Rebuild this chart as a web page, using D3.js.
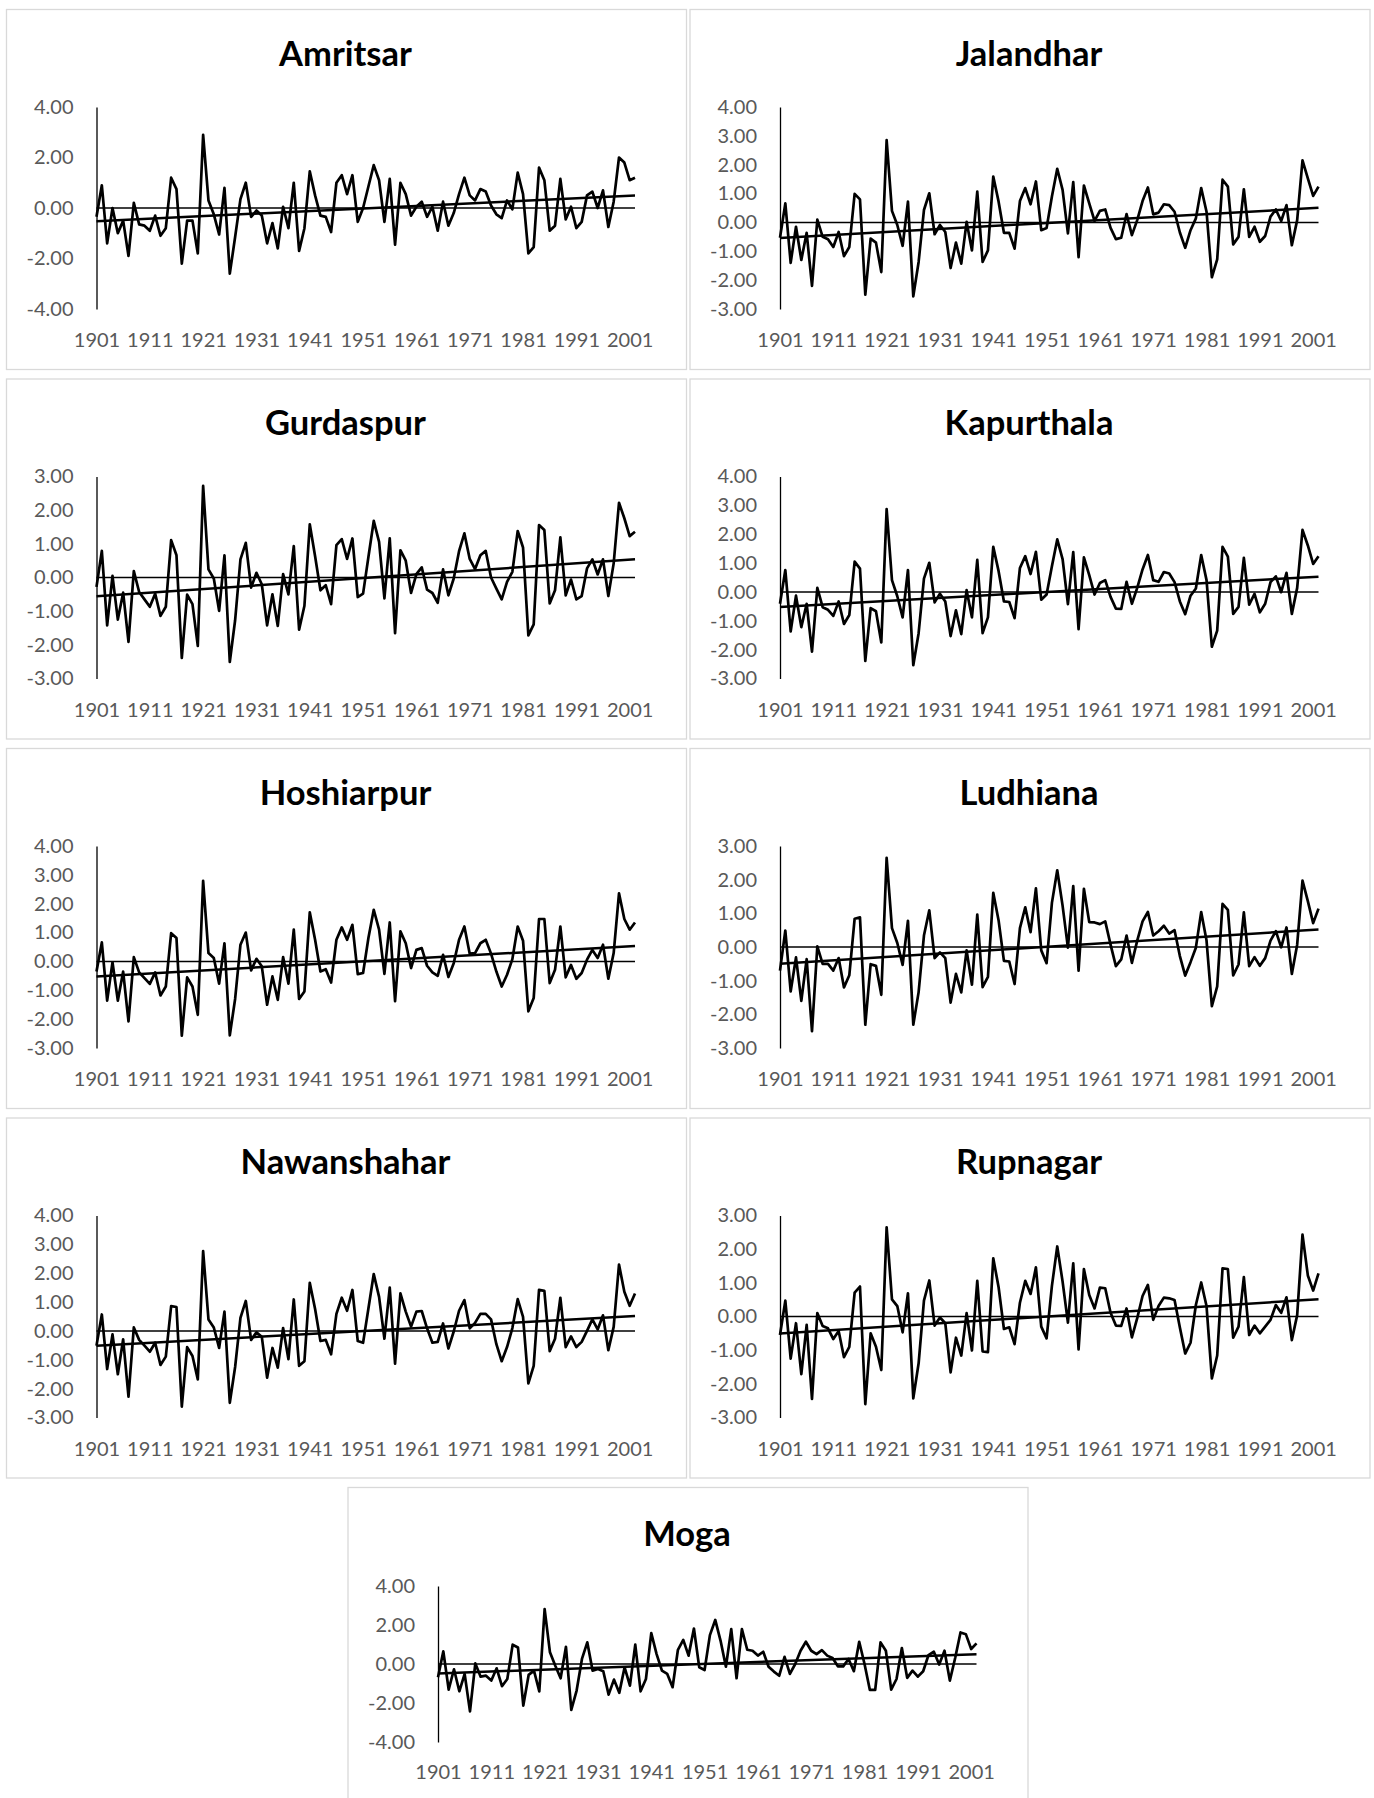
<!DOCTYPE html>
<html>
<head>
<meta charset="utf-8">
<script src="https://cdn.jsdelivr.net/npm/d3@7"></script>
<style>
  body { margin: 0; background: #fff; }
  #chart svg { display: block; }
</style>
</head>
<body>
<div id="chart"></div>
<script>

// years 1901-2002, one value per year
const years = d3.range(1901, 2003);
const yearTicks = [1901, 1911, 1921, 1931, 1941, 1951, 1961, 1971, 1981, 1991, 2001];

const amritsar = [
  -0.35, 0.9, -1.4, 0.0, -1.0, -0.5, -1.9, 0.2, -0.65, -0.7,
  -0.9, -0.3, -1.1, -0.8, 1.2, 0.75, -2.2, -0.5, -0.5, -1.8,
  2.9, 0.3, -0.25, -1.05, 0.8, -2.6, -1.15, 0.35, 1.0, -0.35,
  -0.1, -0.3, -1.4, -0.6, -1.6, 0.05, -0.8, 1.0, -1.7, -0.8,
  1.45, 0.5, -0.3, -0.35, -0.95, 1.0, 1.3, 0.55, 1.3, -0.55,
  0.0, 0.85, 1.7, 1.1, -0.55, 1.15, -1.45, 1.0, 0.55, -0.3,
  0.05, 0.25, -0.35, 0.05, -0.9, 0.25, -0.7, -0.2, 0.55, 1.2,
  0.5, 0.3, 0.75, 0.65, 0.1, -0.25, -0.4, 0.3, -0.05, 1.4,
  0.55, -1.8, -1.55, 1.6, 1.1, -0.9, -0.7, 1.15, -0.45, 0.05,
  -0.8, -0.55, 0.5, 0.65, 0.0, 0.7, -0.75, 0.25, 2.0, 1.8,
  1.1, 1.2
];
const jalandhar = [
  -0.53, 0.66, -1.4, -0.15, -1.3, -0.36, -2.2, 0.1, -0.5, -0.58,
  -0.85, -0.33, -1.17, -0.85, 0.99, 0.8, -2.5, -0.56, -0.7, -1.72,
  2.85, 0.4, -0.09, -0.81, 0.72, -2.56, -1.37, 0.43, 1.01, -0.41,
  -0.09, -0.33, -1.58, -0.7, -1.43, 0.02, -0.97, 1.07, -1.37, -0.97,
  1.59, 0.72, -0.36, -0.36, -0.91, 0.74, 1.19, 0.63, 1.42, -0.27,
  -0.19, 0.9, 1.86, 1.13, -0.38, 1.4, -1.2, 1.28, 0.66, 0.05,
  0.4, 0.45, -0.19, -0.58, -0.53, 0.29, -0.44, 0.08, 0.74, 1.21,
  0.28, 0.34, 0.63, 0.6, 0.37, -0.35, -0.88, -0.27, 0.14, 1.19,
  0.37, -1.9, -1.28, 1.48, 1.24, -0.76, -0.5, 1.15, -0.5, -0.15,
  -0.67, -0.47, 0.2, 0.45, 0.05, 0.6, -0.79, 0.08, 2.15, 1.53,
  0.92, 1.24
];
const gurdaspur = [
  -0.28, 0.79, -1.42, 0.05, -1.25, -0.45, -1.91, 0.19, -0.43, -0.65,
  -0.87, -0.48, -1.14, -0.87, 1.11, 0.66, -2.39, -0.51, -0.79, -2.03,
  2.72, 0.24, -0.03, -0.99, 0.66, -2.51, -1.27, 0.54, 1.03, -0.3,
  0.14, -0.2, -1.42, -0.5, -1.44, 0.1, -0.5, 0.93, -1.55, -0.84,
  1.58, 0.63, -0.38, -0.23, -0.79, 0.96, 1.14, 0.55, 1.16, -0.58,
  -0.48, 0.61, 1.68, 1.06, -0.62, 1.16, -1.65, 0.81, 0.5, -0.46,
  0.1, 0.3, -0.36, -0.46, -0.75, 0.24, -0.53, -0.03, 0.78, 1.31,
  0.55, 0.25, 0.66, 0.79, 0.0, -0.33, -0.65, -0.13, 0.17, 1.38,
  0.89, -1.72, -1.39, 1.56, 1.41, -0.77, -0.38, 1.19, -0.53, -0.06,
  -0.65, -0.55, 0.27, 0.54, 0.09, 0.54, -0.55, 0.42, 2.22, 1.76,
  1.23, 1.36
];
const kapurthala = [
  -0.41, 0.76, -1.37, -0.13, -1.22, -0.41, -2.07, 0.14, -0.53, -0.62,
  -0.83, -0.33, -1.11, -0.8, 1.05, 0.81, -2.39, -0.56, -0.67, -1.75,
  2.87, 0.41, -0.15, -0.88, 0.76, -2.54, -1.43, 0.46, 1.01, -0.36,
  -0.06, -0.33, -1.53, -0.64, -1.46, 0.06, -0.88, 1.11, -1.43, -0.88,
  1.56, 0.72, -0.33, -0.35, -0.91, 0.83, 1.24, 0.62, 1.39, -0.27,
  -0.09, 0.89, 1.82, 1.14, -0.42, 1.38, -1.29, 1.2, 0.58, -0.09,
  0.31, 0.41, -0.17, -0.58, -0.59, 0.35, -0.41, 0.14, 0.78, 1.28,
  0.41, 0.35, 0.69, 0.64, 0.34, -0.33, -0.77, -0.13, 0.12, 1.28,
  0.41, -1.9, -1.34, 1.56, 1.22, -0.76, -0.52, 1.18, -0.44, -0.07,
  -0.71, -0.41, 0.34, 0.54, -0.01, 0.66, -0.76, 0.14, 2.15, 1.61,
  0.97, 1.24
];
const hoshiarpur = [
  -0.35, 0.66, -1.36, -0.03, -1.36, -0.35, -2.08, 0.15, -0.38, -0.58,
  -0.78, -0.38, -1.18, -0.87, 0.98, 0.81, -2.57, -0.55, -0.87, -1.85,
  2.79, 0.29, 0.12, -0.77, 0.63, -2.56, -1.3, 0.58, 1.0, -0.31,
  0.09, -0.17, -1.5, -0.52, -1.33, 0.15, -0.77, 1.1, -1.3, -1.04,
  1.7, 0.75, -0.35, -0.27, -0.73, 0.75, 1.18, 0.75, 1.27, -0.44,
  -0.4, 0.81, 1.79, 1.1, -0.43, 1.35, -1.38, 1.04, 0.63, -0.23,
  0.4, 0.46, -0.15, -0.38, -0.5, 0.23, -0.54, -0.06, 0.75, 1.21,
  0.27, 0.29, 0.63, 0.75, 0.27, -0.35, -0.87, -0.46, 0.08, 1.21,
  0.72, -1.73, -1.27, 1.47, 1.47, -0.75, -0.29, 1.21, -0.55, -0.12,
  -0.6, -0.4, 0.06, 0.4, 0.12, 0.58, -0.6, 0.29, 2.36, 1.47,
  1.1, 1.35
];
const ludhiana = [
  -0.7, 0.49, -1.32, -0.31, -1.6, -0.36, -2.5, 0.02, -0.5, -0.5,
  -0.7, -0.33, -1.2, -0.84, 0.84, 0.88, -2.31, -0.51, -0.56, -1.42,
  2.65, 0.56, 0.12, -0.53, 0.78, -2.31, -1.34, 0.34, 1.09, -0.33,
  -0.16, -0.33, -1.65, -0.8, -1.35, -0.1, -1.12, 0.96, -1.19, -0.89,
  1.61, 0.79, -0.41, -0.43, -1.1, 0.56, 1.18, 0.44, 1.74, -0.1,
  -0.48, 1.31, 2.28, 1.23, -0.02, 1.81, -0.7, 1.73, 0.74, 0.73,
  0.68, 0.76, 0.07, -0.57, -0.37, 0.34, -0.47, 0.19, 0.76, 1.04,
  0.34, 0.47, 0.63, 0.4, 0.5, -0.27, -0.85, -0.45, -0.02, 1.04,
  0.19, -1.76, -1.17, 1.28, 1.1, -0.84, -0.52, 1.03, -0.57, -0.3,
  -0.56, -0.33, 0.19, 0.47, -0.01, 0.58, -0.8, 0.07, 1.97, 1.36,
  0.71, 1.14
];
const nawanshahar = [
  -0.51, 0.57, -1.32, -0.12, -1.5, -0.29, -2.28, 0.12, -0.31, -0.51,
  -0.72, -0.41, -1.18, -0.89, 0.86, 0.83, -2.62, -0.56, -0.87, -1.68,
  2.77, 0.4, 0.12, -0.59, 0.67, -2.49, -1.25, 0.45, 1.04, -0.31,
  -0.05, -0.2, -1.62, -0.59, -1.27, 0.1, -0.98, 1.09, -1.21, -1.05,
  1.67, 0.76, -0.35, -0.31, -0.81, 0.59, 1.15, 0.7, 1.42, -0.35,
  -0.41, 0.78, 1.97, 1.18, -0.27, 1.5, -1.13, 1.3, 0.67, 0.15,
  0.67, 0.69, 0.09, -0.41, -0.38, 0.26, -0.61, -0.02, 0.7, 1.07,
  0.09, 0.28, 0.59, 0.59, 0.4, -0.46, -1.05, -0.56, 0.1, 1.1,
  0.49, -1.82, -1.21, 1.42, 1.39, -0.7, -0.27, 1.15, -0.56, -0.19,
  -0.56, -0.38, 0.0, 0.4, 0.05, 0.54, -0.67, 0.14, 2.3, 1.36,
  0.87, 1.3
];
const rupnagar = [
  -0.55, 0.47, -1.25, -0.2, -1.71, -0.25, -2.45, 0.1, -0.28, -0.35,
  -0.67, -0.43, -1.21, -0.9, 0.71, 0.89, -2.6, -0.5, -0.9, -1.59,
  2.65, 0.51, 0.31, -0.47, 0.69, -2.43, -1.39, 0.47, 1.07, -0.27,
  -0.03, -0.2, -1.66, -0.63, -1.16, 0.1, -1.01, 1.06, -1.04, -1.06,
  1.73, 0.87, -0.37, -0.32, -0.82, 0.41, 1.06, 0.67, 1.46, -0.3,
  -0.65, 0.91, 2.08, 1.04, -0.18, 1.58, -0.98, 1.41, 0.64, 0.24,
  0.86, 0.84, 0.11, -0.27, -0.28, 0.24, -0.62, -0.05, 0.61, 0.94,
  -0.1, 0.31, 0.56, 0.54, 0.49, -0.33, -1.1, -0.78, 0.34, 1.01,
  0.31, -1.84, -1.16, 1.43, 1.41, -0.63, -0.3, 1.17, -0.55, -0.27,
  -0.5, -0.3, -0.1, 0.34, 0.11, 0.57, -0.7, 0.04, 2.43, 1.22,
  0.77, 1.28
];
const moga = [
  -0.68, 0.65, -1.31, -0.27, -1.4, -0.51, -2.43, 0.03, -0.65, -0.6,
  -0.85, -0.22, -1.14, -0.77, 0.99, 0.85, -2.13, -0.56, -0.34, -1.41,
  2.81, 0.6, -0.09, -0.73, 0.88, -2.35, -1.36, 0.26, 1.11, -0.34,
  -0.26, -0.37, -1.57, -0.8, -1.48, -0.17, -1.11, 0.99, -1.4, -0.77,
  1.58, 0.51, -0.34, -0.51, -1.19, 0.73, 1.24, 0.43, 1.82, -0.17,
  -0.31, 1.48, 2.26, 1.19, -0.14, 1.79, -0.73, 1.79, 0.73, 0.68,
  0.43, 0.63, -0.14, -0.39, -0.6, 0.37, -0.51, 0.0, 0.68, 1.14,
  0.68, 0.51, 0.71, 0.43, 0.31, -0.12, -0.12, 0.26, -0.37, 1.14,
  0.0, -1.33, -1.33, 1.11, 0.68, -1.31, -0.77, 0.82, -0.71, -0.34,
  -0.65, -0.37, 0.46, 0.63, -0.03, 0.68, -0.85, 0.31, 1.62, 1.53,
  0.77, 1.06
];

const ticks4 = [-4, -2, 0, 2, 4];
const ticks34 = [-3, -2, -1, 0, 1, 2, 3, 4];
const ticks33 = [-3, -2, -1, 0, 1, 2, 3];

const panels = [
  { name: "Amritsar",    values: amritsar,    yTicks: ticks4,  col: 0, row: 0 },
  { name: "Jalandhar",   values: jalandhar,   yTicks: ticks34, col: 1, row: 0 },
  { name: "Gurdaspur",   values: gurdaspur,   yTicks: ticks33, col: 0, row: 1 },
  { name: "Kapurthala",  values: kapurthala,  yTicks: ticks34, col: 1, row: 1 },
  { name: "Hoshiarpur",  values: hoshiarpur,  yTicks: ticks34, col: 0, row: 2 },
  { name: "Ludhiana",    values: ludhiana,    yTicks: ticks33, col: 1, row: 2 },
  { name: "Nawanshahar", values: nawanshahar, yTicks: ticks34, col: 0, row: 3 },
  { name: "Rupnagar",    values: rupnagar,    yTicks: ticks33, col: 1, row: 3 },
  { name: "Moga",        values: moga,        yTicks: ticks4,  col: 0.5, row: 4 }
];

const width = 1374;
const height = 1798;

const svg = d3.select("#chart")
  .append("svg")
  .attr("width", width)
  .attr("height", height);

const panelW = 681;
const colX = [6, 689.5];
const rowY = 9;
const rowStep = 369.5;

function trendOf(values) {
  const xm = d3.mean(years);
  const ym = d3.mean(values);
  let num = 0, den = 0;
  years.forEach((yr, i) => {
    num += (yr - xm) * (values[i] - ym);
    den += (yr - xm) * (yr - xm);
  });
  const slope = num / den;
  const b = ym - slope * xm;
  return [years[0], years[years.length - 1]].map(yr => ({ year: yr, v: slope * yr + b }));
}

function drawPanel(p) {
  const isMoga = p.row === 4;
  const px = p.col === 0.5 ? 347.5 : colX[p.col];
  const py = rowY + p.row * rowStep;
  const ph = isMoga ? 320 : 361;

  const box = {
    plotTop: isMoga ? 99 : 98,
    plotBottom: isMoga ? 255 : 300,
    labelY: isMoga ? 278 : 324
  };

  const g = svg.append("g").attr("transform", `translate(${px}, ${py})`);

  g.append("rect")
    .attr("x", 0.5).attr("y", 0.5)
    .attr("width", panelW - 1).attr("height", ph - 1)
    .attr("fill", "#fff")
    .attr("stroke", "#d9d9d9")
    .attr("stroke-width", 1.3);

  g.append("text")
    .attr("x", panelW / 2 - 1)
    .attr("y", isMoga ? 45 : 43)
    .attr("text-anchor", "middle")
    .attr("dominant-baseline", "central")
    .attr("font-family", "Lato, sans-serif")
    .attr("font-weight", "bold")
    .attr("font-size", 34.5)
    .attr("fill", "#000")
    .text(p.name);

  const xScale = d3.scaleLinear()
    .domain([years[0], years[years.length - 1]])
    .range([90.5, 629]);

  const yScale = d3.scaleLinear()
    .domain(d3.extent(p.yTicks))
    .range([box.plotBottom, box.plotTop]);

  // vertical axis with labels
  const yAxis = d3.axisLeft(yScale)
    .tickValues(p.yTicks)
    .tickSize(0)
    .tickSizeOuter(0)
    .tickPadding(23)
    .tickFormat(d => d.toFixed(2));

  const yAxisGroup = g.append("g")
    .attr("transform", `translate(${xScale(years[0])}, 0)`)
    .call(yAxis);
  yAxisGroup.select(".domain").attr("stroke", "#000").attr("stroke-width", 1.3);
  yAxisGroup.selectAll("text")
    .attr("font-family", "Lato, sans-serif")
    .attr("font-size", 20)
    .attr("fill", "#595959");

  // year labels at the bottom
  const xAxis = d3.axisBottom(xScale)
    .tickValues(yearTicks)
    .tickSize(0)
    .tickPadding(0)
    .tickFormat(d3.format("d"));

  const xAxisGroup = g.append("g")
    .attr("transform", `translate(0, ${box.labelY})`)
    .call(xAxis);
  xAxisGroup.select(".domain").remove();
  xAxisGroup.selectAll("text")
    .attr("font-family", "Lato, sans-serif")
    .attr("font-size", 20)
    .attr("fill", "#595959");

  // horizontal axis line at zero
  g.append("path")
    .datum([years[0], years[years.length - 1]])
    .attr("fill", "none")
    .attr("stroke", "#000")
    .attr("stroke-width", 1.4)
    .attr("d", d3.line().x(d => xScale(d)).y(() => yScale(0)));

  // series
  g.append("path")
    .datum(p.values)
    .attr("fill", "none")
    .attr("stroke", "#000")
    .attr("stroke-width", 2.7)
    .attr("stroke-linejoin", "round")
    .attr("d", d3.line()
      .x((d, i) => xScale(years[i]))
      .y(d => yScale(d)));

  // linear trend
  g.append("path")
    .datum(trendOf(p.values))
    .attr("fill", "none")
    .attr("stroke", "#000")
    .attr("stroke-width", 2.5)
    .attr("d", d3.line()
      .x(d => xScale(d.year))
      .y(d => yScale(d.v)));
}

panels.forEach(drawPanel);

</script>
</body>
</html>
